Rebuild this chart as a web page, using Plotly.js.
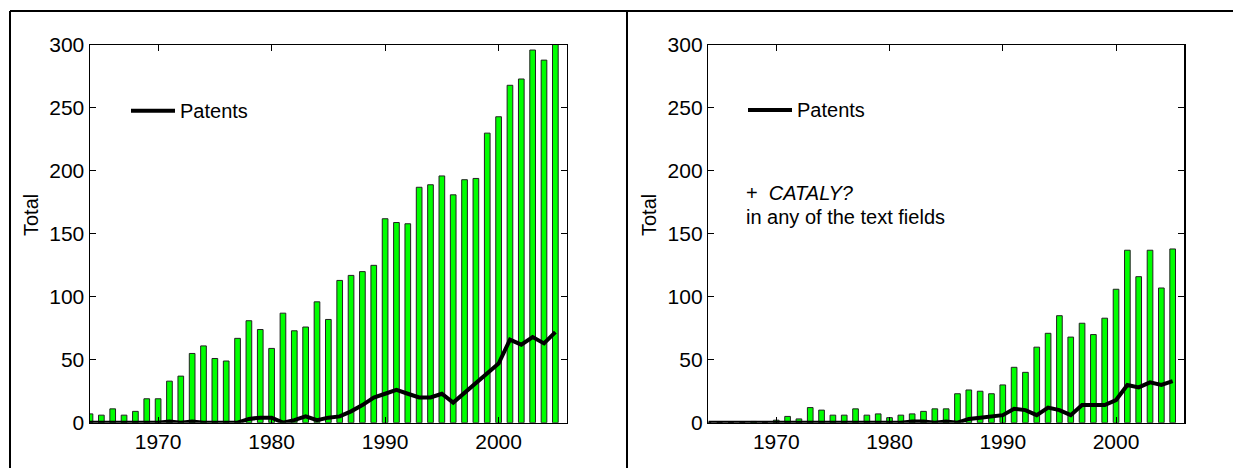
<!DOCTYPE html>
<html>
<head>
<meta charset="utf-8">
<script src="https://cdn.plot.ly/plotly-3.0.1.min.js"></script>
<style>html,body{margin:0;padding:0;background:#fff;}#chart{width:1233px;height:468px;}</style>
</head>
<body>
<div id="chart"></div>
<script>
const years = [1964,1965,1966,1967,1968,1969,1970,1971,1972,1973,1974,1975,1976,1977,1978,1979,1980,1981,1982,1983,1984,1985,1986,1987,1988,1989,1990,1991,1992,1993,1994,1995,1996,1997,1998,1999,2000,2001,2002,2003,2004,2005];
const totalAll = [7,6,11,6,9,19,19,33,37,55,61,51,49,67,81,74,59,87,73,76,96,82,113,117,120,125,162,159,158,187,189,196,181,193,194,230,243,268,273,296,288,305];
const patentsAll = [0,0,0,0,0,0,0,1,0,1,0,0,0,0,3,4,4,0,2,5,2,4,5,9,14,20,23,26,23,20,20,23,16,24,31,39,47,66,62,68,63,72];
const totalCataly = [0,0,0,0,1,0,2,5,3,12,10,6,6,11,6,7,4,6,7,9,11,11,23,26,25,23,30,44,40,60,71,85,68,79,70,83,106,137,116,137,107,138];
const patentsCataly = [0,0,0,0,0,0,0,0,0,0,0,0,0,0,0,0,0,0,1,1,0,1,0,3,4,5,6,11,10,6,12,10,6,14,14,14,18,30,28,32,30,33];
const xTicks = [1970,1980,1990,2000];
const yTicks = [0,50,100,150,200,250,300];
const seriesName = "Patents";
const yTitle = "Total";
const noteLine1 = "+  <i>CATALY?</i>";
const noteLine2 = "in any of the text fields";

const W = 1233, H = 468;
const px = x => x / W;
const py = y => 1 - y / H;
const FONT = "Liberation Sans, Arial, sans-serif";

function barTrace(y, xa, ya) {
  return {type: 'bar', x: years, y: y, width: 0.5, xaxis: xa, yaxis: ya,
    marker: {color: '#00ff00', line: {color: '#222', width: 1}}, showlegend: false, hoverinfo: 'x+y'};
}
function lineTrace(y, xa, ya) {
  return {type: 'scatter', mode: 'lines', x: years, y: y, xaxis: xa, yaxis: ya, name: seriesName,
    line: {color: '#000', width: 4}, showlegend: false};
}
const data = [
  barTrace(totalAll, 'x', 'y'), lineTrace(patentsAll, 'x', 'y'),
  barTrace(totalCataly, 'x2', 'y2'), lineTrace(patentsCataly, 'x2', 'y2')
];

const tickFont = {family: FONT, size: 21, color: '#000'};
function xax(dom, anchor) {
  return {domain: dom, anchor: anchor, range: [1964, 2006], tickmode: 'array', tickvals: xTicks,
    ticks: 'inside', ticklen: 6, tickcolor: '#000', tickwidth: 1, showline: true, mirror: 'ticks',
    linecolor: '#000', linewidth: 1.5, showgrid: false, zeroline: false, tickfont: tickFont};
}
function yax(anchor) {
  return {domain: [1 - 422.7 / H, 1 - 45 / H], anchor: anchor, range: [0, 300], tickmode: 'array', tickvals: yTicks,
    ticks: 'inside', ticklen: 6, tickcolor: '#000', tickwidth: 1, showline: true, mirror: 'ticks',
    linecolor: '#000', linewidth: 1.5, showgrid: false, zeroline: false, tickfont: tickFont};
}

const txt = {family: FONT, size: 20, color: '#000'};
const layout = {
  width: W, height: H, margin: {l: 0, r: 0, t: 0, b: 0},
  paper_bgcolor: '#fff', plot_bgcolor: '#fff', showlegend: false, barmode: 'overlay',
  xaxis: xax([px(90), px(566.7)], 'y'),
  yaxis: yax('x'),
  xaxis2: xax([px(708.3), px(1184)], 'y2'),
  yaxis2: yax('x2'),
  shapes: [
    {type: 'line', xref: 'paper', yref: 'paper', x0: px(10), x1: 1, y0: py(11), y1: py(11), line: {color: '#000', width: 2}},
    {type: 'line', xref: 'paper', yref: 'paper', x0: px(10), x1: px(10), y0: py(11), y1: 0, line: {color: '#000', width: 2}},
    {type: 'line', xref: 'paper', yref: 'paper', x0: px(627), x1: px(627), y0: py(11), y1: 0, line: {color: '#000', width: 2}},
    {type: 'line', xref: 'paper', yref: 'paper', x0: px(131), x1: px(175), y0: py(110.7), y1: py(110.7), line: {color: '#000', width: 4}},
    {type: 'line', xref: 'paper', yref: 'paper', x0: px(748), x1: px(792), y0: py(110), y1: py(110), line: {color: '#000', width: 4}}
  ],
  annotations: [
    {xref: 'paper', yref: 'paper', x: px(178), y: py(111), xanchor: 'left', yanchor: 'middle', text: seriesName, showarrow: false, font: txt},
    {xref: 'paper', yref: 'paper', x: px(795), y: py(110), xanchor: 'left', yanchor: 'middle', text: seriesName, showarrow: false, font: txt},
    {xref: 'paper', yref: 'paper', x: px(744), y: py(193), xanchor: 'left', yanchor: 'middle', text: noteLine1, showarrow: false, font: txt},
    {xref: 'paper', yref: 'paper', x: px(744), y: py(217), xanchor: 'left', yanchor: 'middle', text: noteLine2, showarrow: false, font: txt},
    {xref: 'paper', yref: 'paper', x: px(31), y: py(215), xanchor: 'center', yanchor: 'middle', text: yTitle, textangle: -90, showarrow: false, font: txt},
    {xref: 'paper', yref: 'paper', x: px(649), y: py(215), xanchor: 'center', yanchor: 'middle', text: yTitle, textangle: -90, showarrow: false, font: txt}
  ]
};
Plotly.newPlot('chart', data, layout, {staticPlot: true, displayModeBar: false});
</script>
</body>
</html>
